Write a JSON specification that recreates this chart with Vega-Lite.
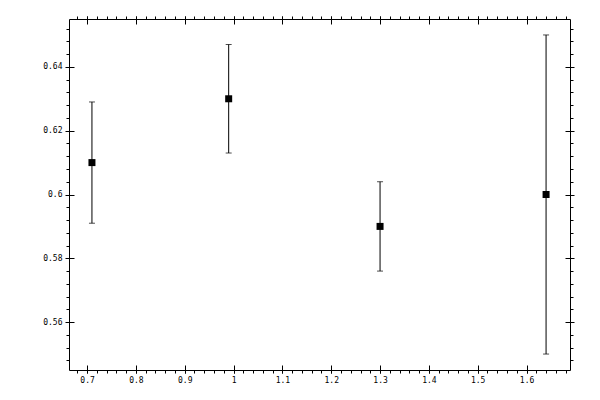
{
  "$schema": "https://vega.github.io/schema/vega-lite/v6.json",
  "description": "Four measurements with vertical error bars, boxed axes with minor ticks",
  "width": 501,
  "height": 351,
  "autosize": "none",
  "padding": {"left": 69, "top": 19, "right": 30, "bottom": 30},
  "background": "white",
  "data": {
    "values": [
      {"x": 0.71, "y": 0.61, "lo": 0.591, "hi": 0.629},
      {"x": 0.99, "y": 0.63, "lo": 0.613, "hi": 0.647},
      {"x": 1.3, "y": 0.59, "lo": 0.576, "hi": 0.604},
      {"x": 1.64, "y": 0.6, "lo": 0.55, "hi": 0.65}
    ]
  },
  "layer": [
    {
      "mark": {"type": "rule", "color": "black", "strokeWidth": 1},
      "encoding": {
        "x": {
          "field": "x", "type": "quantitative",
          "scale": {"domain": [0.663, 1.689], "nice": false, "zero": false},
          "axis": {"orient": "top", "values": [0.7, 0.8, 0.9, 1, 1.1, 1.2, 1.3, 1.4, 1.5, 1.6], "labels": false, "offset": -5, "tickSize": 8}
        },
        "y": {
          "field": "lo", "type": "quantitative",
          "scale": {"domain": [0.545, 0.655], "nice": false, "zero": false},
          "axis": {"orient": "right", "values": [0.56, 0.58, 0.6, 0.62, 0.64], "labels": false, "offset": -5, "tickSize": 9}
        },
        "y2": {"field": "hi"}
      }
    },
    {
      "mark": {"type": "tick", "orient": "horizontal", "color": "black", "size": 6, "thickness": 1},
      "encoding": {
        "x": {
          "field": "x", "type": "quantitative",
          "scale": {"domain": [0.663, 1.689], "nice": false, "zero": false},
          "axis": {"orient": "bottom", "values": [0.68, 0.7, 0.72, 0.74, 0.76, 0.78, 0.8, 0.82, 0.84, 0.86, 0.88, 0.9, 0.92, 0.94, 0.96, 0.98, 1, 1.02, 1.04, 1.06, 1.08, 1.1, 1.12, 1.14, 1.16, 1.18, 1.2, 1.22, 1.24, 1.26, 1.28, 1.3, 1.32, 1.34, 1.36, 1.38, 1.4, 1.42, 1.44, 1.46, 1.48, 1.5, 1.52, 1.54, 1.56, 1.58, 1.6, 1.62, 1.64, 1.66, 1.68], "labels": false, "tickSize": 3}
        },
        "y": {
          "field": "lo", "type": "quantitative",
          "scale": {"domain": [0.545, 0.655], "nice": false, "zero": false},
          "axis": {"orient": "left", "values": [0.548, 0.552, 0.556, 0.56, 0.564, 0.568, 0.572, 0.576, 0.58, 0.584, 0.588, 0.592, 0.596, 0.6, 0.604, 0.608, 0.612, 0.616, 0.62, 0.624, 0.628, 0.632, 0.636, 0.64, 0.644, 0.648, 0.652], "labels": false, "tickSize": 3}
        }
      }
    },
    {
      "mark": {"type": "tick", "orient": "horizontal", "color": "black", "size": 6, "thickness": 1},
      "encoding": {
        "x": {
          "field": "x", "type": "quantitative",
          "scale": {"domain": [0.663, 1.689], "nice": false, "zero": false},
          "axis": {"orient": "top", "values": [0.68, 0.7, 0.72, 0.74, 0.76, 0.78, 0.8, 0.82, 0.84, 0.86, 0.88, 0.9, 0.92, 0.94, 0.96, 0.98, 1, 1.02, 1.04, 1.06, 1.08, 1.1, 1.12, 1.14, 1.16, 1.18, 1.2, 1.22, 1.24, 1.26, 1.28, 1.3, 1.32, 1.34, 1.36, 1.38, 1.4, 1.42, 1.44, 1.46, 1.48, 1.5, 1.52, 1.54, 1.56, 1.58, 1.6, 1.62, 1.64, 1.66, 1.68], "labels": false, "tickSize": 3}
        },
        "y": {
          "field": "hi", "type": "quantitative",
          "scale": {"domain": [0.545, 0.655], "nice": false, "zero": false},
          "axis": {"orient": "right", "values": [0.548, 0.552, 0.556, 0.56, 0.564, 0.568, 0.572, 0.576, 0.58, 0.584, 0.588, 0.592, 0.596, 0.6, 0.604, 0.608, 0.612, 0.616, 0.62, 0.624, 0.628, 0.632, 0.636, 0.64, 0.644, 0.648, 0.652], "labels": false, "tickSize": 3}
        }
      }
    },
    {
      "mark": {"type": "square", "color": "black", "filled": true, "opacity": 1, "size": 49},
      "encoding": {
        "x": {
          "field": "x", "type": "quantitative",
          "scale": {"domain": [0.663, 1.689], "nice": false, "zero": false},
          "axis": {"orient": "bottom", "values": [0.7, 0.8, 0.9, 1, 1.1, 1.2, 1.3, 1.4, 1.5, 1.6], "format": "~g", "offset": -5, "tickSize": 8, "labelPadding": 3}
        },
        "y": {
          "field": "y", "type": "quantitative",
          "scale": {"domain": [0.545, 0.655], "nice": false, "zero": false},
          "axis": {"orient": "left", "values": [0.56, 0.58, 0.6, 0.62, 0.64], "format": "~g", "offset": -5, "tickSize": 9, "labelPadding": 3}
        }
      }
    }
  ],
  "resolve": {"axis": {"x": "independent", "y": "independent"}},
  "config": {
    "view": {"stroke": "black", "strokeWidth": 1},
    "axis": {
      "title": null,
      "grid": false,
      "domain": false,
      "tickColor": "black",
      "tickWidth": 1,
      "labelColor": "black",
      "labelFont": "DejaVu Sans Mono",
      "labelFontSize": 8
    }
  }
}
